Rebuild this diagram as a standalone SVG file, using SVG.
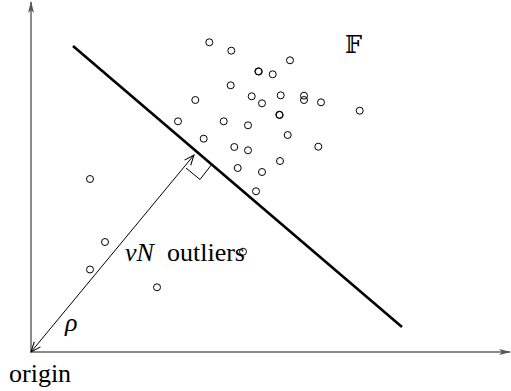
<svg xmlns="http://www.w3.org/2000/svg" width="511" height="391" viewBox="0 0 511 391">
<style>
.pt{fill:none;stroke:#000;stroke-width:1}
.axis{stroke:#666;stroke-width:1.5;fill:none}
.lbl{font-family:"Liberation Serif","Times New Roman",serif;font-size:26px;fill:#000}
.it{font-style:italic}
</style>
<defs>
<marker id="axhead" viewBox="0 0 12 8" refX="11" refY="4" markerWidth="12" markerHeight="8" markerUnits="userSpaceOnUse" orient="auto">
<path d="M0,1 L12,4 L0,7 L3,4 Z" fill="#555"/>
</marker>
<marker id="vhead" viewBox="0 0 12 10" refX="11" refY="5" markerWidth="12" markerHeight="10" markerUnits="userSpaceOnUse" orient="auto-start-reverse">
<path d="M1,1 L11,5 L1,9" fill="none" stroke="#000" stroke-width="1"/>
</marker>
</defs>
<g id="connectors">
<line id="y-axis" class="axis" x1="31" y1="352" x2="31" y2="2" marker-end="url(#axhead)"/>
<line id="x-axis" class="axis" x1="31" y1="352" x2="510" y2="352" marker-end="url(#axhead)"/>
<line id="rho-arrow" x1="31" y1="352" x2="194" y2="155" stroke="#000" stroke-width="1" marker-start="url(#vhead)" marker-end="url(#vhead)"/>
<polyline id="right-angle" points="186,168 200,179.5 212,164" fill="none" stroke="#000" stroke-width="1"/>
</g>
<g id="hyperplane">
<line x1="73" y1="46" x2="402" y2="327" stroke="#000" stroke-width="2.6"/>
</g>
<g id="points">
<circle class="pt" cx="209.3" cy="42.3" r="3.5"/>
<circle class="pt" cx="231.3" cy="50.7" r="3.5"/>
<circle class="pt" cx="290" cy="60.3" r="3.5"/>
<circle class="pt" cx="258.3" cy="71.3" r="3.5"/>
<circle class="pt" cx="258.8" cy="71.6" r="3.5"/>
<circle class="pt" cx="272.7" cy="74.3" r="3.5"/>
<circle class="pt" cx="230.7" cy="85.3" r="3.5"/>
<circle class="pt" cx="195.3" cy="100" r="3.5"/>
<circle class="pt" cx="251.7" cy="96.3" r="3.5"/>
<circle class="pt" cx="262" cy="103.3" r="3.5"/>
<circle class="pt" cx="280.7" cy="95.3" r="3.5"/>
<circle class="pt" cx="304" cy="95.7" r="3.5"/>
<circle class="pt" cx="304" cy="100" r="3.5"/>
<circle class="pt" cx="321" cy="102.3" r="3.5"/>
<circle class="pt" cx="359.7" cy="110.7" r="3.5"/>
<circle class="pt" cx="279.3" cy="114.7" r="3.5"/>
<circle class="pt" cx="279.7" cy="115" r="3.5"/>
<circle class="pt" cx="178" cy="121.3" r="3.5"/>
<circle class="pt" cx="223.7" cy="121.3" r="3.5"/>
<circle class="pt" cx="248" cy="125.3" r="3.5"/>
<circle class="pt" cx="203.7" cy="138.7" r="3.5"/>
<circle class="pt" cx="287.7" cy="135" r="3.5"/>
<circle class="pt" cx="234.3" cy="147" r="3.5"/>
<circle class="pt" cx="248" cy="150.3" r="3.5"/>
<circle class="pt" cx="318.3" cy="146.7" r="3.5"/>
<circle class="pt" cx="280" cy="161" r="3.5"/>
<circle class="pt" cx="237.7" cy="168" r="3.5"/>
<circle class="pt" cx="262" cy="172" r="3.5"/>
<circle class="pt" cx="256" cy="191.3" r="3.5"/>
<circle class="pt" cx="90" cy="179" r="3.5"/>
<circle class="pt" cx="105" cy="242" r="3.5"/>
<circle class="pt" cx="90" cy="269.5" r="3.5"/>
<circle class="pt" cx="157" cy="287.3" r="3.5"/>
<circle class="pt" cx="243" cy="251.7" r="3.5"/>
</g>
<g id="labels">
<text id="label-F" x="345" y="53" style="font-family:'DejaVu Serif','DejaVu Sans',serif;font-size:24px;fill:#000">𝔽</text>
<text id="label-outliers" class="lbl" x="125" y="261"><tspan class="it">νN</tspan><tspan x="167">outliers</tspan></text>
<text id="label-rho" class="lbl it" x="65" y="331">ρ</text>
<text id="label-origin" class="lbl" x="9" y="382">origin</text>
</g>
</svg>
